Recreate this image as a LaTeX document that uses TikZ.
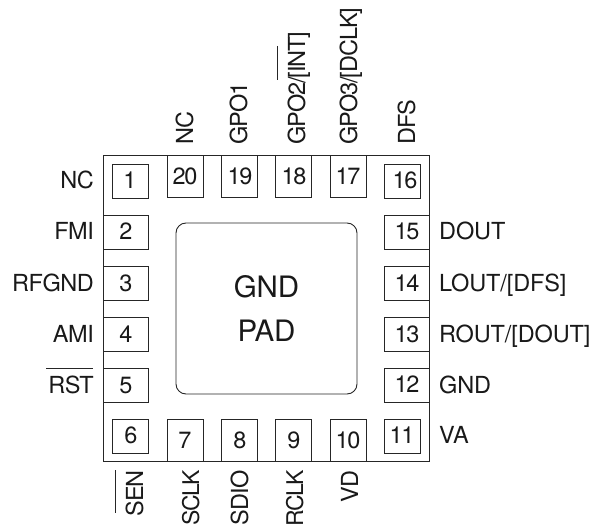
\documentclass[tikz,border=0pt]{standalone}
\usepackage{fontspec}
\setmainfont{TeX Gyre Heros}
\newfontfamily\lblfont[LetterSpace=-2.0]{TeX Gyre Heros}
\newfontfamily\rgtfont[LetterSpace=-0.5]{TeX Gyre Heros}
\newfontfamily\topfont[LetterSpace=-4.5]{TeX Gyre Heros}
\newfontfamily\botfont[LetterSpace=-3.5]{TeX Gyre Heros}
\newfontfamily\tgtfont[LetterSpace=-7.0]{TeX Gyre Heros}
\newfontfamily\numfont[LetterSpace=-5.0]{TeX Gyre Heros}
\newfontfamily\padfont[LetterSpace=-0.5]{TeX Gyre Heros}
\newcommand{\pad}[7]{%
  \node[padbox,minimum width=#3pt-#1pt,minimum height=#4pt-#2pt] (p#5) at ({(#1+#3)/2},{(#2+#4)/2}) {};
  \node[txt] (n#5) at (#6,#7) {#5};}
\tikzset{
  x=1pt,y=-1pt,
  padbox/.style={draw=black!85,line width=0.9pt,inner sep=0pt,outer sep=0pt,fill=none},
  txt/.style={inner sep=0pt,anchor=base,font=\numfont\fontsize{23.5}{23.5}\selectfont,text=black!90},
  lab/.style={inner sep=0pt,font=\lblfont\fontsize{23.5}{23.5}\selectfont,text=black!90},
  labr/.style={inner sep=0pt,anchor=base west,font=\rgtfont\fontsize{23.5}{23.5}\selectfont,text=black!90},
  labt/.style={inner sep=0pt,rotate=90,anchor=base west,font=\topfont\fontsize{23.5}{23.5}\selectfont,text=black!90},
  labb/.style={inner sep=0pt,rotate=90,anchor=base east,font=\botfont\fontsize{23.5}{23.5}\selectfont,text=black!90},
  labc/.style={inner sep=0pt,rotate=90,anchor=base east,font=\tgtfont\fontsize{23}{23}\selectfont,text=black!90},
  bar/.style={draw=black!85,line width=0.9pt}
}
\begin{document}
\begin{tikzpicture}
\useasboundingbox (0,0) rectangle (590,527);
\node[padbox,minimum width=326pt,minimum height=306pt] (body) at (266,308) {};
\node[padbox,minimum width=181pt,minimum height=171pt,rounded corners=10pt] (gnd) at (266.5,308.5) {};
\node[inner sep=0pt,anchor=base,font=\padfont\fontsize{29.5}{29.5}\selectfont,text=black!90] (g1) at (266.5,297) {GND};
\node[inner sep=0pt,anchor=base,font=\padfont\fontsize{29.5}{29.5}\selectfont,text=black!90] (g2) at (266.5,341) {PAD};
\pad{112}{164}{148}{198}{1}{130}{189}
\pad{103}{215}{148}{249}{2}{126}{240}
\pad{103}{266}{148}{300}{3}{126}{291}
\pad{103}{317}{148}{351}{4}{126}{342}
\pad{103}{368}{148}{402}{5}{126}{393}
\pad{112}{419}{148}{453}{6}{131}{443}
\pad{167}{419}{203}{461}{7}{185}{448}
\pad{221}{419}{257}{461}{8}{240}{448}
\pad{275}{419}{311}{461}{9}{294}{448}
\pad{330}{419}{366}{461}{10}{348}{448}
\pad{384}{419}{420}{453}{11}{402}{443}
\pad{384}{368}{429}{402}{12}{407}{392}
\pad{384}{317}{429}{351}{13}{407}{342}
\pad{384}{266}{429}{300}{14}{407}{291}
\pad{384}{215}{429}{249}{15}{407}{240}
\pad{384}{164}{420}{198}{16}{405}{188}
\pad{330}{155}{366}{197}{17}{348}{185}
\pad{275}{155}{311}{197}{18}{294}{185}
\pad{221}{155}{257}{197}{19}{240}{185}
\pad{167}{155}{203}{197}{20}{185}{185}
% left labels
\node[lab,anchor=base east] (l1) at (94,189) {NC};
\node[lab,anchor=base east] (l2) at (94,240) {FMI};
\node[lab,anchor=base east] (l3) at (94,291) {RFGND};
\node[lab,anchor=base east] (l4) at (94,342) {AMI};
\node[lab,anchor=base east] (l5) at (94,393) {RST};
\draw[bar] (46,368) -- (93,368);
% right labels
\node[labr] (r15) at (439,240) {DOUT};
\node[labr] (r14) at (439,291) {LOUT/[DFS]};
\node[labr] (r13) at (439,342) {ROUT/[DOUT]};
\node[labr] (r12) at (439,393) {GND};
\node[labr] (r11) at (439,443) {VA};
% top labels
\node[labt] (t20) at (193,145) {NC};
\node[labt] (t19) at (247,145) {GPO1};
\node[labt] (t18) at (305,145) {GPO2/[INT]};
\node[labt] (t17) at (357,145) {GPO3/[DCLK]};
\node[labt] (t16) at (415,145) {DFS};
\draw[bar] (277.5,46) -- (277.5,80);
% bottom labels
\node[labb] (b6) at (143,470) {SEN};
\draw[bar] (115.5,470) -- (115.5,513);
\node[labc] (b7) at (199,470) {SCLK};
\node[labb] (b8) at (248,470) {SDIO};
\node[labc] (b9) at (303,470) {RCLK};
\node[labb] (b10) at (358,470) {VD};
\end{tikzpicture}
\end{document}
